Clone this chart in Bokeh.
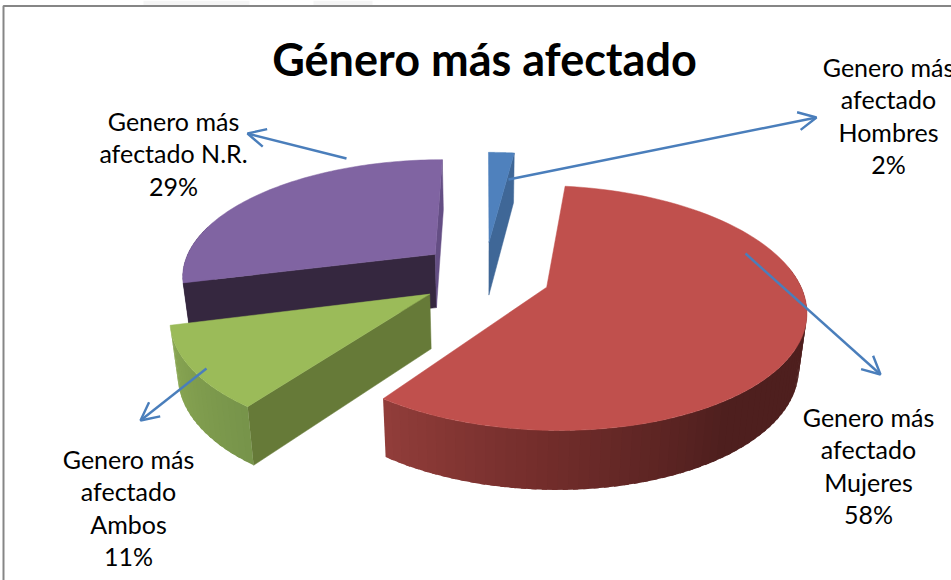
import numpy as np
from bokeh.plotting import figure
from bokeh.models import Range1d, ColumnDataSource, Arrow, OpenHead
from bokeh.core.properties import value
from bokeh.embed import file_html
from bokeh.resources import INLINE

# --- data ---
categories = ["Hombres", "Mujeres", "Ambos", "N.R."]
percent = [2, 58, 11, 29]
title_text = "Género más afectado"
label_lines = [
    ["Genero más", "afectado", "Hombres", "2%"],
    ["Genero más", "afectado", "Mujeres", "58%"],
    ["Genero más", "afectado", "Ambos", "11%"],
    ["Genero más", "afectado N.R.", "29%"],
]

# --- styling / layout ---
top_colors = ["#4f81bd", "#c0504d", "#9bbb59", "#8064a2"]
radius_factor = [0.98, 0.98, 0.97, 1.0]
label_x = [888, 868, 128, 173]
label_y = [66, 416, 458, 120]
line_gap = 32.6
leaders = [(508, 179, 816, 117), (745, 253, 880, 374), (206, 368, 140, 420), (346, 158, 247, 133)]
VX, CY, SX, SY, PERSP, EX, EY = 484.6, 274.0, 255.0, 117.0, 0.17, 0.255, 0.29
DROP, KX, KY = 54.0, 0.975, 1.035
LATO = value("Lato")

edges = np.cumsum([0] + percent) * 3.6
mids = (edges[:-1] + edges[1:]) / 2


def project(theta_deg, i, bottom=False):
    t = np.radians(theta_deg)
    m = np.radians(mids[i])
    r = radius_factor[i]
    X = EX * np.sin(m) + r * np.sin(t)
    Y = -EY * np.cos(m) - r * np.cos(t)
    w = 1 / (1 - PERSP * Y)
    sx = VX + SX * X * w
    sy = CY + SY * Y * w
    if bottom:
        sx = VX + (sx - VX) * KX
        sy = CY + DROP + (sy - CY) * KY
    return sx, sy


def apex(i, bottom=False):
    m = np.radians(mids[i])
    X = EX * np.sin(m)
    Y = -EY * np.cos(m)
    w = 1 / (1 - PERSP * Y)
    sx = VX + SX * X * w
    sy = CY + SY * Y * w
    if bottom:
        sx = VX + (sx - VX) * KX
        sy = CY + DROP + (sy - CY) * KY
    return float(sx), float(sy)


def mix(a, b, f):
    ca = [int(a[k:k + 2], 16) for k in (1, 3, 5)]
    cb = [int(b[k:k + 2], 16) for k in (1, 3, 5)]
    return "#%02x%02x%02x" % tuple(int(round(x + (y - x) * f)) for x, y in zip(ca, cb))


p = figure(width=951, height=580, x_range=Range1d(0, 951), y_range=Range1d(580, 0),
           output_backend="svg", toolbar_location=None,
           x_axis_location=None, y_axis_location=None, min_border=0)
p.styles = {"position": "absolute", "left": "0px", "top": "0px"}
p.grid.visible = False
p.outline_line_color = None
p.background_fill_color = "white"

# window furniture above / around the chart
p.quad(left=[143, 313], right=[249, 372], top=[0, 0], bottom=[5, 5], fill_color="#f5f5f5", line_color=None)
p.multi_line(xs=[[3, 3, 951]], ys=[[580, 5.5, 5.5]], line_color="#868686", line_width=2)


def cut(i, theta, color):
    ax, ay = apex(i)
    bx, by = apex(i, True)
    tx, ty = project(theta, i)
    ux, uy = project(theta, i, True)
    p.patch([ax, tx, ux, bx], [ay, ty, uy, by], fill_color=color, line_color=color, line_width=0.5)


def top(i):
    th = np.linspace(edges[i], edges[i + 1], 90)
    sx, sy = project(th, i)
    ax, ay = apex(i)
    c = top_colors[i]
    p.patch([ax] + list(sx), [ay] + list(sy), fill_color=c, line_color=c, line_width=0.5)


def wall(i, a, b, stops):
    th = np.arange(a, b, 2.0)
    th = np.append(th, b)
    xs, ys, cols = [], [], []
    for k in range(len(th) - 1):
        nxt = min(th[k + 1] + 1.0, b)
        x0, y0 = project(th[k], i)
        x1, y1 = project(nxt, i)
        x2, y2 = project(nxt, i, True)
        x3, y3 = project(th[k], i, True)
        xs.append([x0, x1, x2, x3])
        ys.append([y0, y1, y2, y3])
        c = (th[k] + th[k + 1]) / 2
        col = stops[-1][1]
        for (p0, c0), (p1, c1) in zip(stops[:-1], stops[1:]):
            if p0 <= c <= p1:
                col = mix(c0, c1, (c - p0) / (p1 - p0))
                break
        cols.append(col)
    # painted from the far end so each band overlaps the next and no seam shows
    order = list(range(len(xs)))
    p.patches([xs[k] for k in order], [ys[k] for k in order], fill_color=[cols[k] for k in order],
              line_color=None)


# N.R.
wall(3, edges[3], 285, [(edges[3], "#35263f"), (285, "#35263f")])
cut(3, edges[3], "#35273f")
cut(3, edges[4], "#644e84")
top(3)
# Hombres
cut(0, edges[1], "#3f6797")
top(0)
# Ambos
cut(2, edges[2], "#667a38")
wall(2, edges[2], edges[3], [(edges[2], "#76934a"), (edges[3], "#8aa853")])
top(2)
# Mujeres
wall(1, 80, edges[2], [(80, "#4e1f1e"), (145, "#4e1f1e"), (180, "#702c2a"), (edges[2], "#923d3a")])
top(1)

# leader lines
for x0, y0, x1, y1 in leaders:
    p.add_layout(Arrow(end=OpenHead(size=18, line_color="#4a7ebb", line_width=2.4),
                       x_start=x0, y_start=y0, x_end=x1, y_end=y1,
                       line_color="#4a7ebb", line_width=2.4))

# texts
tx, ty, tt = [], [], []
for lines, x, y in zip(label_lines, label_x, label_y):
    for n, s in enumerate(lines):
        tx.append(x)
        ty.append(y + n * line_gap)
        tt.append(s)
p.text(x=tx, y=ty, text=tt, text_font=LATO, text_font_size="25px", text_color="#000000",
       text_align="center", text_baseline="middle")
p.text(x=[484], y=[58], text=[title_text], text_font=LATO, text_font_size="45px",
       text_font_style="bold", text_color="#000000", text_align="center", text_baseline="middle")

open("out.html", "w").write(file_html(p, INLINE))
